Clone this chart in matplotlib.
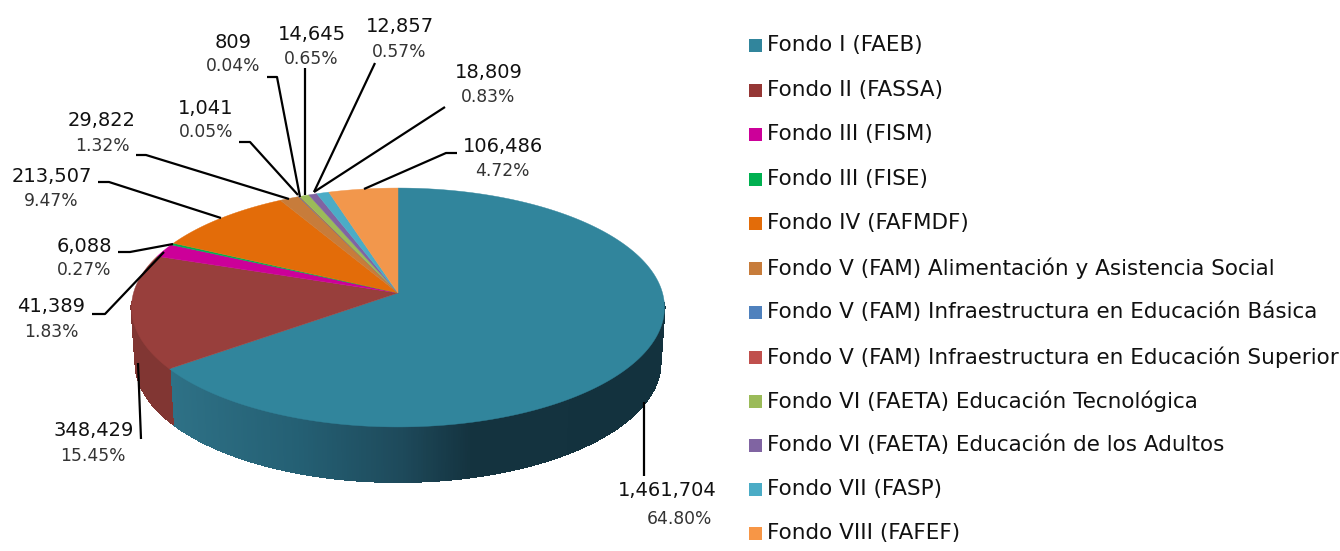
import numpy as np
import matplotlib
matplotlib.use('Agg')
import matplotlib.pyplot as plt
from matplotlib.colors import to_rgb

categories = ['Fondo I (FAEB)', 'Fondo II (FASSA)', 'Fondo III (FISM)', 'Fondo III (FISE)',
              'Fondo IV (FAFMDF)', 'Fondo V (FAM) Alimentación y Asistencia Social',
              'Fondo V (FAM) Infraestructura en Educación Básica',
              'Fondo V (FAM) Infraestructura en Educación Superior',
              'Fondo VI (FAETA) Educación Tecnológica', 'Fondo VI (FAETA) Educación de los Adultos',
              'Fondo VII (FASP)', 'Fondo VIII (FAFEF)']
values = [1461704, 348429, 41389, 6088, 213507, 29822, 1041, 809, 14645, 12857, 18809, 106486]
percents = ['64.80%', '15.45%', '1.83%', '0.27%', '9.47%', '1.32%', '0.05%', '0.04%', '0.65%',
            '0.57%', '0.83%', '4.72%']

colors = ['#31859c', '#983f3c', '#cc0099', '#00b050', '#e36c09', '#c77c3b', '#4f81bd', '#c0504d',
          '#9bbb59', '#8064a2', '#4bacc6', '#f2974c']
legend_colors = ['#31859c', '#953735', '#cc0099', '#00b050', '#e36c09', '#c77c3b', '#4f81bd', '#c0504d',
                 '#9bbb59', '#8064a2', '#4bacc6', '#f79646']

# label centres in image pixels, same order as values
value_xy = [(667, 490), (94, 431), (51, 307), (84, 246), (52, 176), (102, 121), (206, 108),
            (233, 42), (312, 34), (400, 26), (489, 72), (503, 146)]
percent_xy = [(679, 519), (93, 456), (51, 332), (84, 270), (51, 201), (102, 146), (206, 132),
              (233, 66), (311, 59), (399, 52), (488, 97), (502, 171)]
leaders = [[(644, 476), (644, 402)],
           [(141, 439), (138, 363)],
           [(92, 314), (105, 314), (164, 252)],
           [(118, 252), (130, 252), (173, 244)],
           [(98, 182), (109, 182), (221, 218)],
           [(136, 155), (146, 155), (289, 199)],
           [(239, 142), (250, 142), (298, 195)],
           [(267, 77), (277, 77), (300, 197)],
           [(305, 68), (305, 195)],
           [(375, 63), (314, 192)],
           [(445, 107), (314, 192)],
           [(457, 153), (446, 153), (364, 189)]]
legend_y = [45, 90, 134, 179, 223, 268, 312, 357, 401, 445, 489, 533]

# perspective of the pie top, fitted on the picture
CX, CY = 398, 293
RX, RY, K = 264.5, 117.7, 0.1213
DEPTH = 55
SHRINK = 0.985


def project(angle, r=1.0, lower=False):
    u = r * np.sin(angle)
    v = r * np.cos(angle)
    w = 1 + K * v
    x = RX * u / w
    y = -RY * v / w
    if lower:
        return CX + SHRINK * x, CY + y + DEPTH
    return CX + x, CY + y


def side_color(i, x):
    if i != 0:
        return tuple(c * 0.85 for c in to_rgb(colors[i]))
    stops_x = [170, 300, 400, 470, 665]
    stops = [to_rgb(c) for c in ['#2e7186', '#245f73', '#1e4a5b', '#14333f', '#13323e']]
    return tuple(np.interp(x, stops_x, [s[k] for s in stops]) for k in range(3))


fig = plt.figure(figsize=(13.4, 5.51), dpi=100)
ax = fig.add_axes([0, 0, 1, 1])
ax.set_xlim(0, 1340)
ax.set_ylim(551, 0)
ax.axis('off')

edges = np.concatenate([[0], np.cumsum(values)]) / sum(values) * 2 * np.pi

# side wall, only what faces the viewer
for i in range(len(values)):
    n = max(2, int((edges[i + 1] - edges[i]) * 120))
    ang = np.linspace(edges[i], edges[i + 1], n)
    for a0, a1 in zip(ang[:-1], ang[1:]):
        if np.cos(a0) > -0.08 and np.cos(a1) > -0.08:
            continue
        x0, y0 = project(a0)
        x1, y1 = project(a1)
        x2, y2 = project(a1, lower=True)
        x3, y3 = project(a0, lower=True)
        c = side_color(i, (x0 + x1) / 2)
        ax.fill([x0, x1, x2, x3], [y0, y1, y2, y3], color=c, lw=0.8, antialiased=False, zorder=2)

# top face
for i in range(len(values)):
    ang = np.linspace(edges[i], edges[i + 1], max(3, int((edges[i + 1] - edges[i]) * 120)))
    x, y = project(ang)
    ax.fill(np.r_[CX, x], np.r_[CY, y], color=colors[i], lw=0.3, zorder=3)

for line in leaders:
    xs, ys = zip(*line)
    ax.plot(xs, ys, color='black', lw=1.6, zorder=4, solid_capstyle='butt')

for v, p, vxy, pxy in zip(values, percents, value_xy, percent_xy):
    ax.text(vxy[0], vxy[1], f'{v:,}', fontsize=14, color='#111111', ha='center', va='center', zorder=5)
    ax.text(pxy[0], pxy[1], p, fontsize=12.3, color='#333333', ha='center', va='center', zorder=5)

for name, c, y in zip(categories, legend_colors, legend_y):
    ax.fill([749, 762, 762, 749], [y - 6.5, y - 6.5, y + 6.5, y + 6.5], color=c, lw=0)
    ax.text(767, y, name, fontsize=15.5, color='#111111', ha='left', va='center')

fig.savefig('out.png', dpi=100)
